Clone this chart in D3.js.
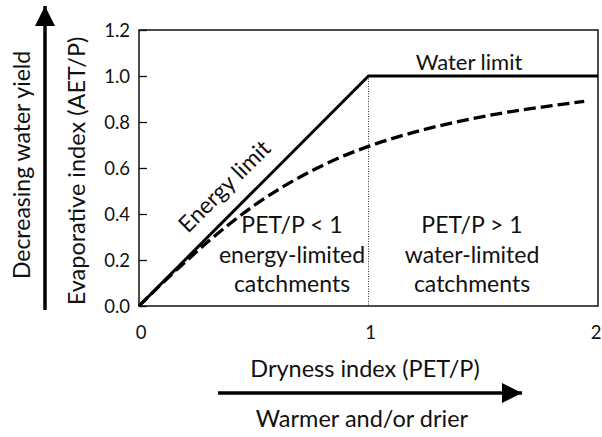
<!DOCTYPE html>
<html><head><meta charset="utf-8">
<script src="https://cdn.jsdelivr.net/npm/d3@7"></script>
<style>
html,body{margin:0;padding:0;background:#fff;}
svg{display:block;}
text{font-family:Lato,"Open Sans",sans-serif;fill:#111;}
</style></head>
<body>
<svg id="c" width="602" height="437"></svg>
<script>
// ---- data ----
const dryness   = [0, 0.1, 0.2, 0.3, 0.4, 0.5, 0.6, 0.7, 0.8, 0.9, 1.0, 1.2, 1.4, 1.6, 1.8, 1.94];
const evapCurve = [0, 0.098, 0.19, 0.279, 0.361, 0.436, 0.502, 0.56, 0.611, 0.656, 0.694, 0.756, 0.804, 0.842, 0.871, 0.89];
const limitX = [0, 1, 2];
const limitY = [0, 1, 1];
const yTicks = [0, 0.2, 0.4, 0.6, 0.8, 1.0, 1.2];
const yTickLabels = ["0.0", "0.2", "0.4", "0.6", "0.8", "1.0", "1.2"];
const xTicks = [0, 1, 2];
const xTickLabels = ["0", "1", "2"];

const svg = d3.select("#c");
const x = d3.scaleLinear().domain([0, 2]).range([139, 598]);
const y = d3.scaleLinear().domain([0, 1.2]).range([306, 30]);

// arrow marker
const defs = svg.append("defs");
defs.append("marker").attr("id", "ah").attr("viewBox", "0 0 10 10")
  .attr("refX", 10).attr("refY", 5).attr("markerWidth", 20).attr("markerHeight", 20)
  .attr("markerUnits", "userSpaceOnUse").attr("orient", "auto")
  .append("path").attr("d", "M0,0 L10,5 L0,10 Z").attr("fill", "#000");

// plot frame
svg.append("rect").attr("x", x(0)).attr("y", y(1.2))
  .attr("width", x(2) - x(0)).attr("height", y(0) - y(1.2))
  .attr("fill", "none").attr("stroke", "#111").attr("stroke-width", 1.5);

// y axis (inward ticks)
const yAxis = d3.axisRight(y).tickValues(yTicks).tickSize(8).tickFormat("");
const ya = svg.append("g").attr("transform", `translate(${x(0)},0)`).call(yAxis);
ya.select(".domain").remove();
ya.selectAll("line").attr("stroke", "#111").attr("stroke-width", 1.3);
svg.append("g").selectAll("text").data(yTicks).join("text")
  .attr("x", x(0) - 9).attr("y", d => y(d) + 6.5)
  .attr("text-anchor", "end").attr("font-size", 18.5)
  .text((d, i) => yTickLabels[i]);

// x tick labels
svg.append("g").selectAll("text").data(xTicks).join("text")
  .attr("x", d => Math.min(x(d) + 2, 596)).attr("y", 339)
  .attr("text-anchor", "middle").attr("font-size", 18.5)
  .text((d, i) => xTickLabels[i]);

// dotted divider at PET/P = 1
svg.append("line").attr("x1", x(1)).attr("x2", x(1)).attr("y1", y(1)).attr("y2", y(0))
  .attr("stroke", "#333").attr("stroke-width", 1).attr("stroke-dasharray", "1,1.5");

// limits
svg.append("path").datum(limitX.map((d, i) => [d, limitY[i]]))
  .attr("d", d3.line().x(d => x(d[0])).y(d => y(d[1])))
  .attr("fill", "none").attr("stroke", "#000").attr("stroke-width", 3);

// Budyko curve
svg.append("path").datum(dryness.map((d, i) => [d, evapCurve[i]]))
  .attr("d", d3.line().curve(d3.curveMonotoneX).x(d => x(d[0])).y(d => y(d[1])))
  .attr("fill", "none").attr("stroke", "#000").attr("stroke-width", 3.3)
  .attr("stroke-dasharray", "12,5");

// annotations
svg.append("text").attr("x", 469).attr("y", 70).attr("text-anchor", "middle").attr("font-size", 22).text("Water limit");
svg.append("text").attr("transform", "translate(230,192) rotate(-45)").attr("text-anchor", "middle").attr("font-size", 23).text("Energy limit");

const leftLines = ["PET/P < 1", "energy-limited", "catchments"];
const rightLines = ["PET/P > 1", "water-limited", "catchments"];
svg.append("g").selectAll("text").data(leftLines).join("text")
  .attr("x", 292).attr("y", (d, i) => 233 + i * 29.5).attr("text-anchor", "middle").attr("font-size", 23).text(d => d);
svg.append("g").selectAll("text").data(rightLines).join("text")
  .attr("x", 472).attr("y", (d, i) => 233 + i * 29.5).attr("text-anchor", "middle").attr("font-size", 23).text(d => d);

// axis titles
svg.append("text").attr("transform", "translate(85,171) rotate(-90)").attr("text-anchor", "middle").attr("font-size", 23.5).text("Evaporative index (AET/P)");
svg.append("text").attr("transform", "translate(30,165) rotate(-90)").attr("text-anchor", "middle").attr("font-size", 23).text("Decreasing water yield");
svg.append("text").attr("x", 365).attr("y", 377).attr("text-anchor", "middle").attr("font-size", 23.5).text("Dryness index (PET/P)");
svg.append("text").attr("x", 362).attr("y", 427).attr("text-anchor", "middle").attr("font-size", 23.5).text("Warmer and/or drier");

// direction arrows
svg.append("line").attr("x1", 45).attr("y1", 310).attr("x2", 45).attr("y2", 6)
  .attr("stroke", "#000").attr("stroke-width", 3.5).attr("marker-end", "url(#ah)");
svg.append("line").attr("x1", 218).attr("y1", 393).attr("x2", 522).attr("y2", 393)
  .attr("stroke", "#000").attr("stroke-width", 3.5).attr("marker-end", "url(#ah)");
</script>
</body></html>
